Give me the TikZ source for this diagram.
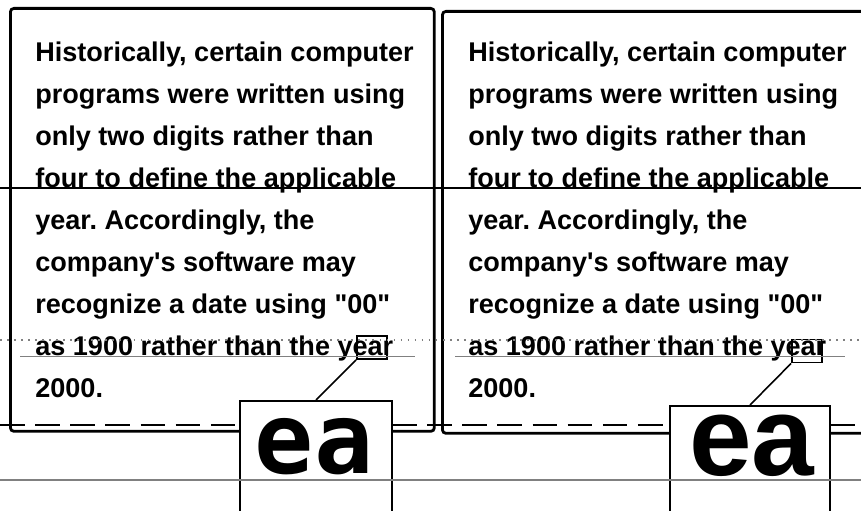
\documentclass[tikz,border=0pt]{standalone}
\usepackage{fontspec}
\setmainfont{Liberation Sans}[Ligatures=TeXOff]
\newfontfamily\blockfont{DejaVu Sans Mono}
\usetikzlibrary{%
  positioning%
}
\frenchspacing

\tikzset{
  panel/.style={draw, line width=1.6pt, rounded corners=2pt,
    anchor=north west, inner sep=0pt},
  prose/.style={anchor=north west, inner sep=0pt, align=left,
    font=\bfseries\fontsize{15.4}{23.9}\selectfont},
  glyphmark/.style={draw, line width=1.1pt, inner sep=0pt,
    minimum width=0.6cm, minimum height=0.46cm},
  zoombox/.style={draw, line width=1.3pt, anchor=north, inner sep=0pt,
    minimum height=2.8cm},
  leader/.style={line width=0.9pt},
  rule/.style={line width=0.8pt}
}

\begin{document}
\begin{tikzpicture}[x=0.02cm,y=-0.02cm]
        \useasboundingbox (0,0) rectangle (861,510);
        \clip (0,0) rectangle (861,510);
        % the two panels
        \node [panel, minimum width=8.48cm, minimum height=8.46cm] (lbox) at (9,7) {};
        \node [panel, minimum width=9.4cm, minimum height=8.44cm] (rbox) at (441,10) {};
        \node [prose] (ltext) at (35,42) {Historically, certain computer\\
          programs were written using\\
          only two digits rather than\\
          four to define the applicable\\
          year. Accordingly, the\\
          company's software may\\
          recognize a date using "00"\\
          as 1900 rather than the year\\
          2000.};
        \node [prose] (rtext) at (468,42) {Historically, certain computer\\
          programs were written using\\
          only two digits rather than\\
          four to define the applicable\\
          year. Accordingly, the\\
          company's software may\\
          recognize a date using "00"\\
          as 1900 rather than the year\\
          2000.};
        % marked letters and their enlargements
        \node [glyphmark] (lmark) at (372,347.5) {};
        \node [glyphmark] (rmark) at (807,351) {};
        \node [zoombox, fill=white, minimum width=3.04cm] (lzoom) at (316,400) {};
        \node [zoombox, fill=white, minimum width=3.2cm] (rzoom) at (750,405) {};
        \node [anchor=base, inner sep=0pt, font=\blockfont\bfseries\fontsize{56}{56}\selectfont] (lea) at (314,473) {ea};
        \node [anchor=base, inner sep=0pt, font=\bfseries\fontsize{64}{64}\selectfont] (rea) at (752,475) {ea};
        \draw [leader] (lmark.south west) -- (lzoom.north);
        \draw [leader] (rmark.south west) -- (rzoom.north);
        % scan lines
        \draw [rule] (0,188) -- (861,188);
        \draw [rule, gray, dash pattern=on 1pt off 3pt] (0,340) -- (861,340);
        \draw [line width=0.4pt, gray] (20,356) -- (415,356);
        \draw [line width=0.4pt, gray] (455,356) -- (845,356);
        \draw [rule, dash pattern=on 14pt off 6pt] (0,425) -- (240,425);
        \draw [rule, dash pattern=on 14pt off 6pt] (392,425) -- (670,425);
        \draw [rule, dash pattern=on 14pt off 6pt] (830,425) -- (861,425);
        \draw [rule, gray] (0,480) -- (861,480);
      \end{tikzpicture}
\end{document}
